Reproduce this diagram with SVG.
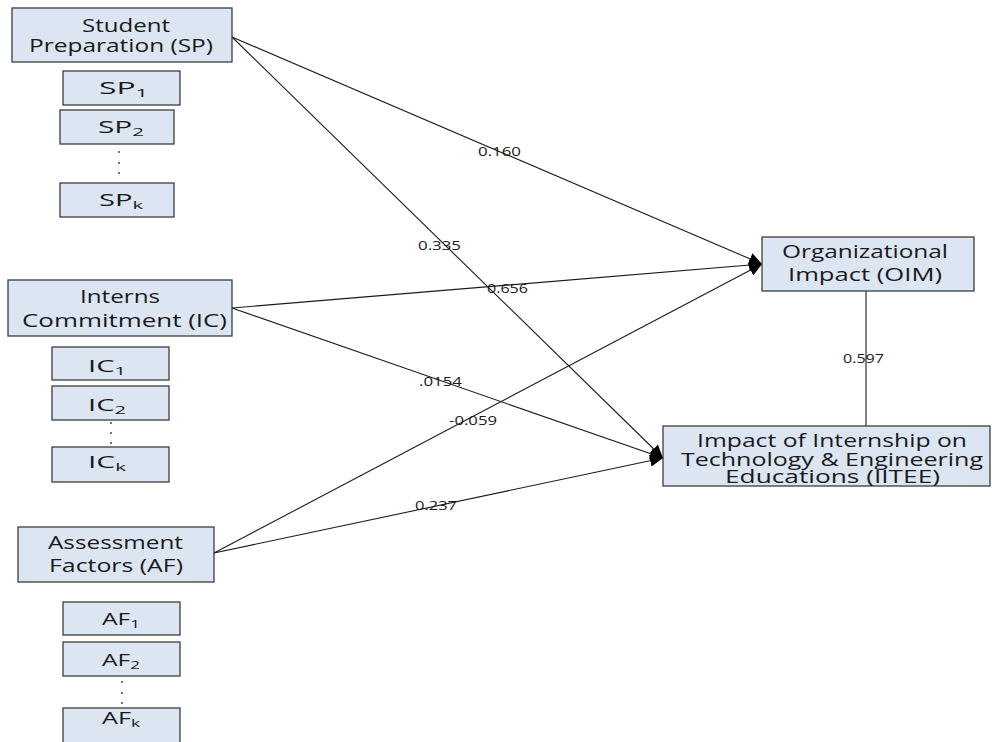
<svg xmlns="http://www.w3.org/2000/svg" width="992" height="742" viewBox="0 0 992 742">
<style>
.box{fill:#dce6f2;stroke:#3c3c3c;stroke-width:1.3}
.t{font-family:"Open Sans","Noto Sans",sans-serif;font-size:18.5px;fill:#1a1a1a}
.s{font-family:"Open Sans","Noto Sans",sans-serif;font-size:16px;fill:#1a1a1a}
.sub{font-size:11px}
.lbl{font-family:"Open Sans","Noto Sans",sans-serif;font-size:12.5px;fill:#1a1a1a}
.ln{stroke:#1a1a1a;stroke-width:1.1;fill:none}
.dot{fill:#333}
</style>
<defs>
<marker id="ah" markerWidth="14" markerHeight="12" refX="13" refY="6" orient="auto" markerUnits="userSpaceOnUse">
<path d="M0,0 L13,6 L0,12 Z" fill="#000"/>
</marker>
</defs>
<rect width="992" height="742" fill="#fff"/>

<g id="connectors">
<line class="ln" x1="232" y1="37" x2="762" y2="264" marker-end="url(#ah)"/>
<line class="ln" x1="232" y1="37" x2="663" y2="458" marker-end="url(#ah)"/>
<line class="ln" x1="232" y1="308" x2="762" y2="264" marker-end="url(#ah)"/>
<line class="ln" x1="232" y1="308" x2="663" y2="458" marker-end="url(#ah)"/>
<line class="ln" x1="214" y1="553" x2="762" y2="264" marker-end="url(#ah)"/>
<line class="ln" x1="214" y1="553" x2="663" y2="458" marker-end="url(#ah)"/>
<line class="ln" x1="866" y1="291" x2="866" y2="426"/>
<text class="lbl" x="478" y="156" textLength="43" lengthAdjust="spacingAndGlyphs">0.160</text>
<text class="lbl" x="418" y="250" textLength="43" lengthAdjust="spacingAndGlyphs">0.335</text>
<text class="lbl" x="487" y="293" textLength="41" lengthAdjust="spacingAndGlyphs">0.656</text>
<text class="lbl" x="419" y="386" textLength="43" lengthAdjust="spacingAndGlyphs">.0154</text>
<text class="lbl" x="449" y="425" textLength="48" lengthAdjust="spacingAndGlyphs">-0.059</text>
<text class="lbl" x="415" y="510" textLength="42" lengthAdjust="spacingAndGlyphs">0.237</text>
<text class="lbl" x="843" y="363" textLength="41" lengthAdjust="spacingAndGlyphs">0.597</text>
</g>

<g id="SP">
<rect class="box" x="12" y="8" width="220" height="54"/>
<text class="t" x="82" y="32" textLength="88" lengthAdjust="spacingAndGlyphs">Student</text>
<text class="t" x="29" y="52" textLength="184" lengthAdjust="spacingAndGlyphs">Preparation (SP)</text>
</g>
<g id="SP1">
<rect class="box" x="63" y="71" width="117" height="34"/>
<text class="s" x="99" y="94" textLength="49" lengthAdjust="spacingAndGlyphs">SP<tspan class="sub" dy="3">1</tspan></text>
</g>
<g id="SP2">
<rect class="box" x="60" y="110" width="114" height="34"/>
<text class="s" x="98" y="133" textLength="46" lengthAdjust="spacingAndGlyphs">SP<tspan class="sub" dy="3">2</tspan></text>
</g>
<g id="SPdots">
<circle class="dot" cx="119" cy="152" r="0.9"/><circle class="dot" cx="119" cy="163" r="0.9"/><circle class="dot" cx="119" cy="173" r="0.9"/>
</g>
<g id="SPk">
<rect class="box" x="60" y="183" width="114" height="34"/>
<text class="s" x="99" y="206" textLength="44" lengthAdjust="spacingAndGlyphs">SP<tspan class="sub" dy="3">k</tspan></text>
</g>

<g id="IC">
<rect class="box" x="8" y="280" width="224" height="56"/>
<text class="t" x="80" y="303" textLength="80" lengthAdjust="spacingAndGlyphs">Interns</text>
<text class="t" x="22" y="327" textLength="205" lengthAdjust="spacingAndGlyphs">Commitment (IC)</text>
</g>
<g id="IC1">
<rect class="box" x="52" y="347" width="117" height="33"/>
<text class="s" x="88" y="372" textLength="38" lengthAdjust="spacingAndGlyphs">IC<tspan class="sub" dy="3">1</tspan></text>
</g>
<g id="IC2">
<rect class="box" x="52" y="386" width="117" height="34"/>
<text class="s" x="88" y="411" textLength="38" lengthAdjust="spacingAndGlyphs">IC<tspan class="sub" dy="3">2</tspan></text>
</g>
<g id="ICdots">
<circle class="dot" cx="111" cy="423" r="0.9"/><circle class="dot" cx="111" cy="433" r="0.9"/><circle class="dot" cx="111" cy="443" r="0.9"/>
</g>
<g id="ICk">
<rect class="box" x="52" y="447" width="117" height="35"/>
<text class="s" x="88" y="468" textLength="38" lengthAdjust="spacingAndGlyphs">IC<tspan class="sub" dy="3">k</tspan></text>
</g>

<g id="AF">
<rect class="box" x="18" y="527" width="196" height="55"/>
<text class="t" x="48" y="549" textLength="135" lengthAdjust="spacingAndGlyphs">Assessment</text>
<text class="t" x="49" y="572" textLength="134" lengthAdjust="spacingAndGlyphs">Factors (AF)</text>
</g>
<g id="AF1">
<rect class="box" x="63" y="602" width="117" height="33"/>
<text class="s" x="102" y="625" textLength="38" lengthAdjust="spacingAndGlyphs">AF<tspan class="sub" dy="3">1</tspan></text>
</g>
<g id="AF2">
<rect class="box" x="63" y="642" width="117" height="34"/>
<text class="s" x="102" y="666" textLength="38" lengthAdjust="spacingAndGlyphs">AF<tspan class="sub" dy="3">2</tspan></text>
</g>
<g id="AFdots">
<circle class="dot" cx="122" cy="682" r="0.9"/><circle class="dot" cx="122" cy="693" r="0.9"/><circle class="dot" cx="122" cy="703" r="0.9"/>
</g>
<g id="AFk">
<rect class="box" x="63" y="708" width="117" height="40"/>
<text class="s" x="102" y="724" textLength="38" lengthAdjust="spacingAndGlyphs">AF<tspan class="sub" dy="3">k</tspan></text>
</g>

<g id="OIM">
<rect class="box" x="762" y="237" width="212" height="54"/>
<text class="t" x="782" y="258" textLength="166" lengthAdjust="spacingAndGlyphs">Organizational</text>
<text class="t" x="788" y="281" textLength="154" lengthAdjust="spacingAndGlyphs">Impact (OIM)</text>
</g>
<g id="IITEE">
<rect class="box" x="663" y="426" width="327" height="60"/>
<text class="t" x="697" y="447" textLength="270" lengthAdjust="spacingAndGlyphs">Impact of Internship on</text>
<text class="t" x="681" y="465.5" textLength="302" lengthAdjust="spacingAndGlyphs">Technology &amp; Engineering</text>
<text class="t" x="725" y="483" textLength="215" lengthAdjust="spacingAndGlyphs">Educations (IITEE)</text>
</g>
</svg>
